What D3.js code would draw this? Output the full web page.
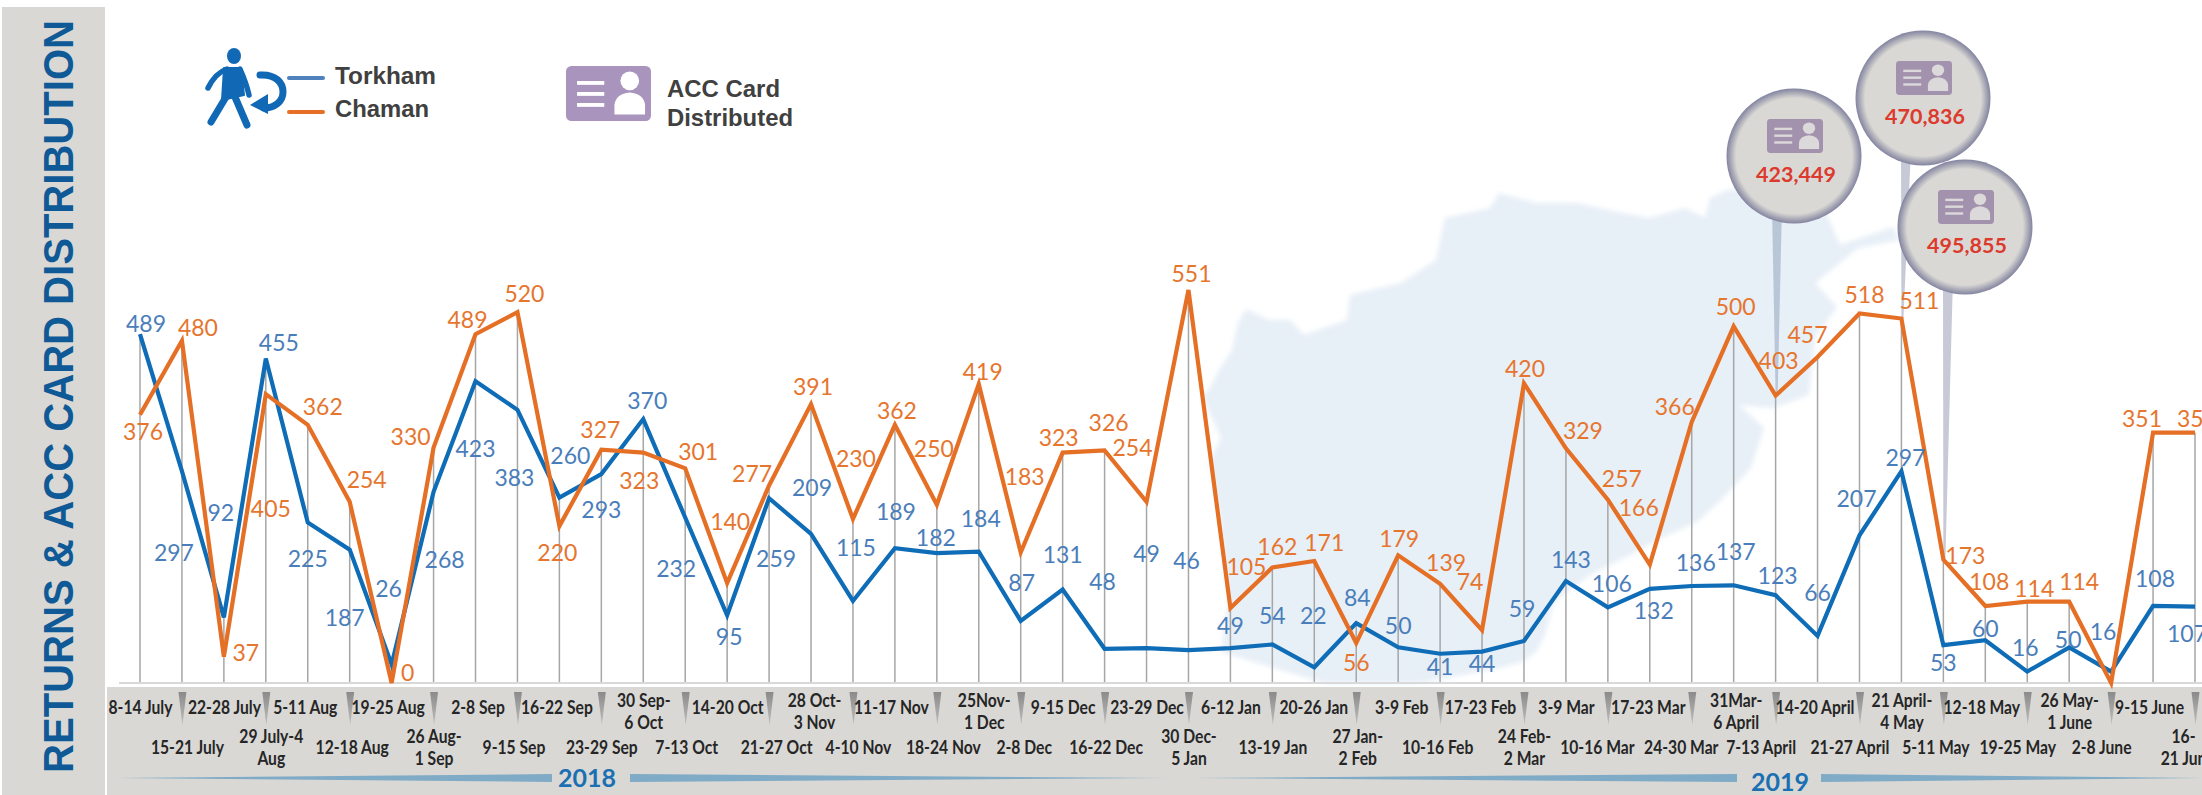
<!DOCTYPE html>
<html>
<head>
<meta charset="utf-8">
<script src="https://cdn.jsdelivr.net/npm/d3@7"></script>
<style>
    html, body { margin: 0; padding: 0; background: #fff; overflow: hidden; }
    svg { display: block; }
</style>
</head>
<body>
<div id="chart"></div>
<script>
const weeks = [
    '8-14 July', '15-21 July', '22-28 July', '29 July-4\nAug', '5-11 Aug', '12-18 Aug', '19-25 Aug', '26 Aug-\n1 Sep',
    '2-8 Sep', '9-15 Sep', '16-22 Sep', '23-29 Sep', '30 Sep-\n6 Oct', '7-13 Oct', '14-20 Oct', '21-27 Oct',
    '28 Oct-\n3 Nov', '4-10 Nov', '11-17 Nov', '18-24 Nov', '25Nov-\n1 Dec', '2-8 Dec', '9-15 Dec', '16-22 Dec',
    '23-29 Dec', '30 Dec-\n5 Jan', '6-12 Jan', '13-19 Jan', '20-26 Jan', '27 Jan-\n2 Feb', '3-9 Feb', '10-16 Feb',
    '17-23 Feb', '24 Feb-\n2 Mar', '3-9 Mar', '10-16 Mar', '17-23 Mar', '24-30 Mar', '31Mar-\n6 April', '7-13 April',
    '14-20 April', '21-27 April', '21 April-\n4 May', '5-11 May', '12-18 May', '19-25 May', '26 May-\n1 June', '2-8 June',
    '9-15 June', '16-\n21 Jun'
];

const torkham = [
    489, 297, 92, 455, 225, 187, 26, 268, 423, 383, 260, 293, 370, 232, 95, 259, 209,
    115, 189, 182, 184, 87, 131, 48, 49, 46, 49, 54, 22, 84, 50, 41, 44, 59, 143, 106,
    132, 136, 137, 123, 66, 207, 297, 53, 60, 16, 50, 16, 108, 107
];

const chaman = [
    376, 480, 37, 405, 362, 254, 0, 330, 489, 520, 220, 327, 323, 301, 140, 277, 391,
    230, 362, 250, 419, 183, 323, 326, 254, 551, 105, 162, 171, 56, 179, 139, 74, 420,
    329, 257, 166, 366, 500, 403, 457, 518, 511, 173, 108, 114, 114, 0, 351, 351
];

const cardWeeks = ['7-13 April', '21 April-\n4 May', '5-11 May'];
const cardCounts = [423449, 470836, 495855];

// hand placed labels in the original, so they get nudged point by point
const torkhamNudge = [
    [6, -11], [-8, 81], [-3, -105], [13, -16], [0, 35], [-5, 67], [-3, -76], [11, 67], [0, 67], [-3, 67],
    [11, -43], [0, 35], [4, -19], [-9, 50], [2, 21], [7, 60], [1, -47], [3, -54], [1, -37], [-1, -16],
    [2, -34], [1, -39], [0, -36], [-2, -68], [0, -95], [-2, -90], [0, -23], [0, -29], [-1, -52], [1, -26],
    [0, -22], [0, 12], [0, 11], [-2, -33], [5, -22], [4, -24], [4, 21], [4, -24], [2, -34], [2, -20],
    [0, -44], [-3, -37], [4, -14], [0, 17], [0, -12], [-2, -25], [-1, -8], [-8, -41], [2, -28], [-8, 26]
];

const chamanNudge = [
    [3, 16], [16, -14], [22, -5], [5, 114], [15, -19], [17, -23], [16, -11], [-23, -12], [-8, -15], [7, -19],
    [-2, 26], [-1, -21], [-4, 27], [13, -17], [3, -62], [-17, -12], [2, -18], [3, -61], [2, -15], [-3, -57],
    [4, -13], [4, -76], [-4, -16], [4, -28], [-14, -55], [3, -17], [16, -42], [5, -21], [10, -19], [0, 19],
    [1, -17], [6, -22], [-12, -49], [1, -15], [17, -18], [14, -22], [-11, -58], [-17, -16], [2, -20], [3, -36],
    [-10, -23], [5, -20], [18, -19], [22, -5], [4, -25], [7, -14], [10, -21], null, [-11, -15], [2, -15]
];

const tickNudge = [
    0, 5, 0, 5, -3, 2, -4, 0, 2, -4, -3, 0, 0, 1, 0, 7, 3, 5, -4, 6, 5, 3, 0, 1, 0, 0, 0, 0, -1, 1,
    3, -3, -2, 0, 0, -11, -2, -11, 2, -15, -3, -10, 0, -8, -4, -10, 0, -10, -4, -12
];

const mapOutline = [
    [1209, 390], [1218, 372], [1232, 350], [1238, 323], [1246, 309], [1269, 320], [1290, 320], [1304, 335],
    [1347, 320], [1350, 295], [1401, 283], [1436, 260], [1445, 218], [1490, 208], [1499, 193], [1536, 203],
    [1577, 203], [1622, 213], [1650, 218], [1685, 208], [1705, 218], [1710, 198], [1727, 190], [1800, 190],
    [1828, 217], [1840, 245], [1893, 227], [1900, 240], [1858, 248], [1815, 283], [1837, 307], [1815, 337],
    [1809, 395], [1773, 408], [1739, 405], [1764, 428], [1751, 468], [1719, 502], [1697, 522], [1661, 538],
    [1630, 555], [1590, 575], [1554, 602], [1545, 635], [1536, 652], [1522, 662], [1500, 668], [1420, 683],
    [1324, 683], [1221, 652], [1228, 602], [1219, 512], [1209, 462], [1221, 438], [1202, 395]
];

const svgWidth = 2202;
const svgHeight = 795;
const labelFont = 'Lato, "Open Sans", sans-serif';
const arialFont = '"Liberation Sans", Arial, sans-serif';
const blue = '#0f6cb6';
const orange = '#e56f24';

const svg = d3.select('#chart')
    .append('svg')
    .attr('width', svgWidth)
    .attr('height', svgHeight);

const defs = svg.append('defs');

defs.append('filter')
    .attr('id', 'soft')
    .append('feGaussianBlur')
    .attr('stdDeviation', 2.5);

const rim = defs.append('radialGradient').attr('id', 'rim');
rim.append('stop').attr('offset', '86%').attr('stop-color', '#d9d8d4');
rim.append('stop').attr('offset', '100%').attr('stop-color', '#82839f');

const arrowFade = defs.append('linearGradient')
    .attr('id', 'arrowFade')
    .attr('x1', 0).attr('x2', 0).attr('y1', 0).attr('y2', 1);
arrowFade.append('stop').attr('offset', '0%').attr('stop-color', '#8b8b8b');
arrowFade.append('stop').attr('offset', '100%').attr('stop-color', '#bdbdbb');

const xScale = d3.scalePoint()
    .domain(weeks)
    .range([140, 2195]);

const yScale = d3.scaleLinear()
    .domain([0, 551])
    .range([683, 290]);

// grey panels
svg.append('rect')
    .attr('x', 2).attr('y', 7)
    .attr('width', 103).attr('height', svgHeight - 7)
    .attr('fill', '#d9d8d5');

svg.append('rect')
    .attr('x', 107).attr('y', 687)
    .attr('width', svgWidth - 107).attr('height', svgHeight - 687)
    .attr('fill', '#d9d8d5');

svg.append('text')
    .attr('transform', 'translate(73, 773) rotate(-90)')
    .attr('textLength', 753)
    .attr('lengthAdjust', 'spacingAndGlyphs')
    .attr('font-family', arialFont)
    .attr('font-weight', 700)
    .attr('font-size', 43)
    .attr('fill', '#0f5a96')
    .text('RETURNS & ACC CARD DISTRIBUTION');

// faint map behind the lines
svg.append('path')
    .attr('d', d3.line().curve(d3.curveLinearClosed)(mapOutline))
    .attr('fill', '#e7eff7')
    .attr('filter', 'url(#soft)');

// pins of the callouts run under the lines
const calloutCentres = [[1794, 156], [1923, 98], [1965, 227]];

const pins = svg.append('g');
cardWeeks.forEach((week, i) => {
    const [cx, cy] = calloutCentres[i];
    const tipX = xScale(week);
    const tipY = yScale(chaman[weeks.indexOf(week)]);
    pins.append('path')
        .attr('d', `M${cx - 22},${cy + 50}L${cx - 12},${cy + 50}L${tipX + 2},${tipY}L${tipX},${tipY}Z`)
        .attr('fill', i === 0 ? '#b9c6d7' : '#c8c9d6');
});

// drop lines and baseline
svg.append('g')
    .selectAll('line')
    .data(weeks)
    .join('line')
    .attr('x1', d => xScale(d))
    .attr('x2', d => xScale(d))
    .attr('y1', (d, i) => yScale(Math.max(torkham[i], chaman[i])))
    .attr('y2', yScale(0))
    .attr('stroke', '#a6a6a6')
    .attr('stroke-width', 1.5);

svg.append('line')
    .attr('x1', 119).attr('x2', svgWidth)
    .attr('y1', yScale(0)).attr('y2', yScale(0))
    .attr('stroke', '#d9d9d9')
    .attr('stroke-width', 2);

const lineFor = values => d3.line()
    .x((d, i) => xScale(weeks[i]))
    .y(d => yScale(d))(values);

[[torkham, blue], [chaman, orange]].forEach(([values, colour]) => {
    svg.append('path')
        .attr('d', lineFor(values))
        .attr('fill', 'none')
        .attr('stroke', colour)
        .attr('stroke-width', 4.2)
        .attr('stroke-linejoin', 'miter');
});

const drawValues = (values, nudges, colour) => {
    svg.append('g')
        .selectAll('text')
        .data(values)
        .join('text')
        .attr('x', (d, i) => xScale(weeks[i]) + (nudges[i] ? nudges[i][0] : 0))
        .attr('y', (d, i) => yScale(d) + (nudges[i] ? nudges[i][1] : 0))
        .attr('text-anchor', 'middle')
        .attr('dominant-baseline', 'central')
        .attr('font-family', labelFont)
        .attr('font-size', 23)
        .attr('fill', colour)
        .text((d, i) => nudges[i] ? d : '');
};

drawValues(torkham, torkhamNudge, '#4a7ebb');
drawValues(chaman, chamanNudge, '#e6752e');

// week labels sit on two staggered rows, with a small wedge on every second tick
const xAxis = svg.append('g')
    .attr('transform', 'translate(0, 687)')
    .call(d3.axisBottom(xScale).tickSize(0));

xAxis.select('.domain').remove();

xAxis.selectAll('.tick text').each(function (d, i) {
    const lines = d.split('\n');
    const rowY = i % 2 === 0 ? 20 : 60;
    const top = lines.length === 1 ? rowY : (i % 2 === 0 ? rowY - 7 : rowY - 11);
    const label = d3.select(this)
        .attr('y', 0)
        .attr('dy', null)
        .text(null)
        .attr('font-family', labelFont)
        .attr('font-weight', 700)
        .attr('font-size', 18)
        .attr('fill', '#262626')
        .attr('dominant-baseline', 'central');
    lines.forEach((line, k) => {
        const span = label.append('tspan')
            .attr('x', tickNudge[i])
            .attr('y', top + k * 22)
            .text(line);
        // reference type is a narrow face, Lato needs squeezing to fit the slots
        span.attr('textLength', span.node().getComputedTextLength() * 0.87)
            .attr('lengthAdjust', 'spacingAndGlyphs');
    });
});

xAxis.selectAll('.tick')
    .filter((d, i) => i % 2 === 1)
    .append('path')
    .attr('d', 'M-4,5L4,5L0,38Z')
    .attr('fill', 'url(#arrowFade)');

// year bands
const bands = [
    { from: 117, to: 552 },
    { from: 1166, to: 630 },
    { from: 1195, to: 1737 },
    { from: 2202, to: 1821 }
];

svg.append('g')
    .selectAll('path')
    .data(bands)
    .join('path')
    .attr('d', d => `M${d.from},778L${d.to},774L${d.to},782Z`)
    .attr('fill', '#80abc6');

svg.append('g')
    .selectAll('text')
    .data([['2018', 587, 777], ['2019', 1780, 781]])
    .join('text')
    .attr('x', d => d[1])
    .attr('y', d => d[2])
    .attr('text-anchor', 'middle')
    .attr('dominant-baseline', 'central')
    .attr('font-family', labelFont)
    .attr('font-weight', 700)
    .attr('font-size', 25)
    .attr('fill', '#1a70b2')
    .text(d => d[0]);

// id card icon, used by the legend and the callouts
const drawCard = (parent, cx, cy, w, h, colour, inkColour) => {
    const card = parent.append('g')
        .attr('transform', `translate(${cx - w / 2}, ${cy - h / 2})`);
    card.append('rect')
        .attr('width', w)
        .attr('height', h)
        .attr('rx', h * 0.1)
        .attr('fill', colour);
    [0.3, 0.5, 0.7].forEach(t => {
        card.append('rect')
            .attr('x', w * 0.13)
            .attr('y', h * t - 1.5)
            .attr('width', w * 0.32)
            .attr('height', h * 0.07)
            .attr('fill', inkColour);
    });
    card.append('ellipse')
        .attr('cx', w * 0.75)
        .attr('cy', h * 0.27)
        .attr('rx', w * 0.11)
        .attr('ry', h * 0.17)
        .attr('fill', inkColour);
    card.append('path')
        .attr('d', `M${w * 0.57},${h * 0.88}V${h * 0.7}Q${w * 0.59},${h * 0.5} ${w * 0.75},${h * 0.48}Q${w * 0.91},${h * 0.5} ${w * 0.93},${h * 0.7}V${h * 0.88}Z`)
        .attr('fill', inkColour);
};

cardCounts.forEach((count, i) => {
    const [cx, cy] = calloutCentres[i];
    const callout = svg.append('g');
    callout.append('circle')
        .attr('cx', cx).attr('cy', cy)
        .attr('r', 67.5)
        .attr('fill', 'url(#rim)');
    drawCard(callout, cx + 1, cy - 20, 56, 34, '#a392ae', '#dcd9da');
    callout.append('text')
        .attr('x', cx + 2)
        .attr('y', cy + 18)
        .attr('text-anchor', 'middle')
        .attr('dominant-baseline', 'central')
        .attr('font-family', labelFont)
        .attr('font-weight', 700)
        .attr('font-size', 21.5)
        .attr('fill', '#dd3a2e')
        .text(d3.format(',')(count));
});

// legend
const legend = svg.append('g');
const walker = legend.append('g')
    .attr('fill', 'none')
    .attr('stroke', '#1169b5')
    .attr('stroke-linecap', 'round')
    .attr('stroke-linejoin', 'round');

walker.append('ellipse')
    .attr('cx', 234).attr('cy', 56)
    .attr('rx', 7).attr('ry', 8)
    .attr('fill', '#1169b5')
    .attr('stroke', 'none');
walker.append('path')
    .attr('d', 'M224,68L241,68L244,95L222,100Z')
    .attr('fill', '#1169b5')
    .attr('stroke-width', 2);
walker.append('path')
    .attr('d', 'M226,97L211,122M235,97L247,125')
    .attr('stroke-width', 7);
walker.append('path')
    .attr('d', 'M227,69C218,72 212,80 208,88M240,69C244,78 247,86 249,95')
    .attr('stroke-width', 5.5);
walker.append('path')
    .attr('d', 'M260,75C276,74 283,83 283,92C283,102 274,108 264,108')
    .attr('stroke-width', 7);
legend.append('path')
    .attr('d', 'M250,105L268,94L268,114Z')
    .attr('fill', '#1169b5');

const legendText = (line, x, rowY, length) => {
    legend.append('text')
        .attr('x', x)
        .attr('y', rowY)
        .attr('dominant-baseline', 'central')
        .attr('textLength', length)
        .attr('lengthAdjust', 'spacingAndGlyphs')
        .attr('font-family', arialFont)
        .attr('font-weight', 700)
        .attr('font-size', 24)
        .attr('fill', '#404040')
        .text(line);
};

[['Torkham', 75, 78, '#4f81bd', 101], ['Chaman', 108, 112, orange, 94]].forEach(([name, textY, lineY, colour, length]) => {
    legend.append('line')
        .attr('x1', 289).attr('x2', 323)
        .attr('y1', lineY).attr('y2', lineY)
        .attr('stroke', colour)
        .attr('stroke-width', 4)
        .attr('stroke-linecap', 'round');
    legendText(name, 335, textY, length);
});

drawCard(legend, 608.5, 93.5, 85, 55, '#a894bd', '#ffffff');
legendText('ACC Card', 667, 88, 113);
legendText('Distributed', 667, 117, 126);
</script>
</body>
</html>
